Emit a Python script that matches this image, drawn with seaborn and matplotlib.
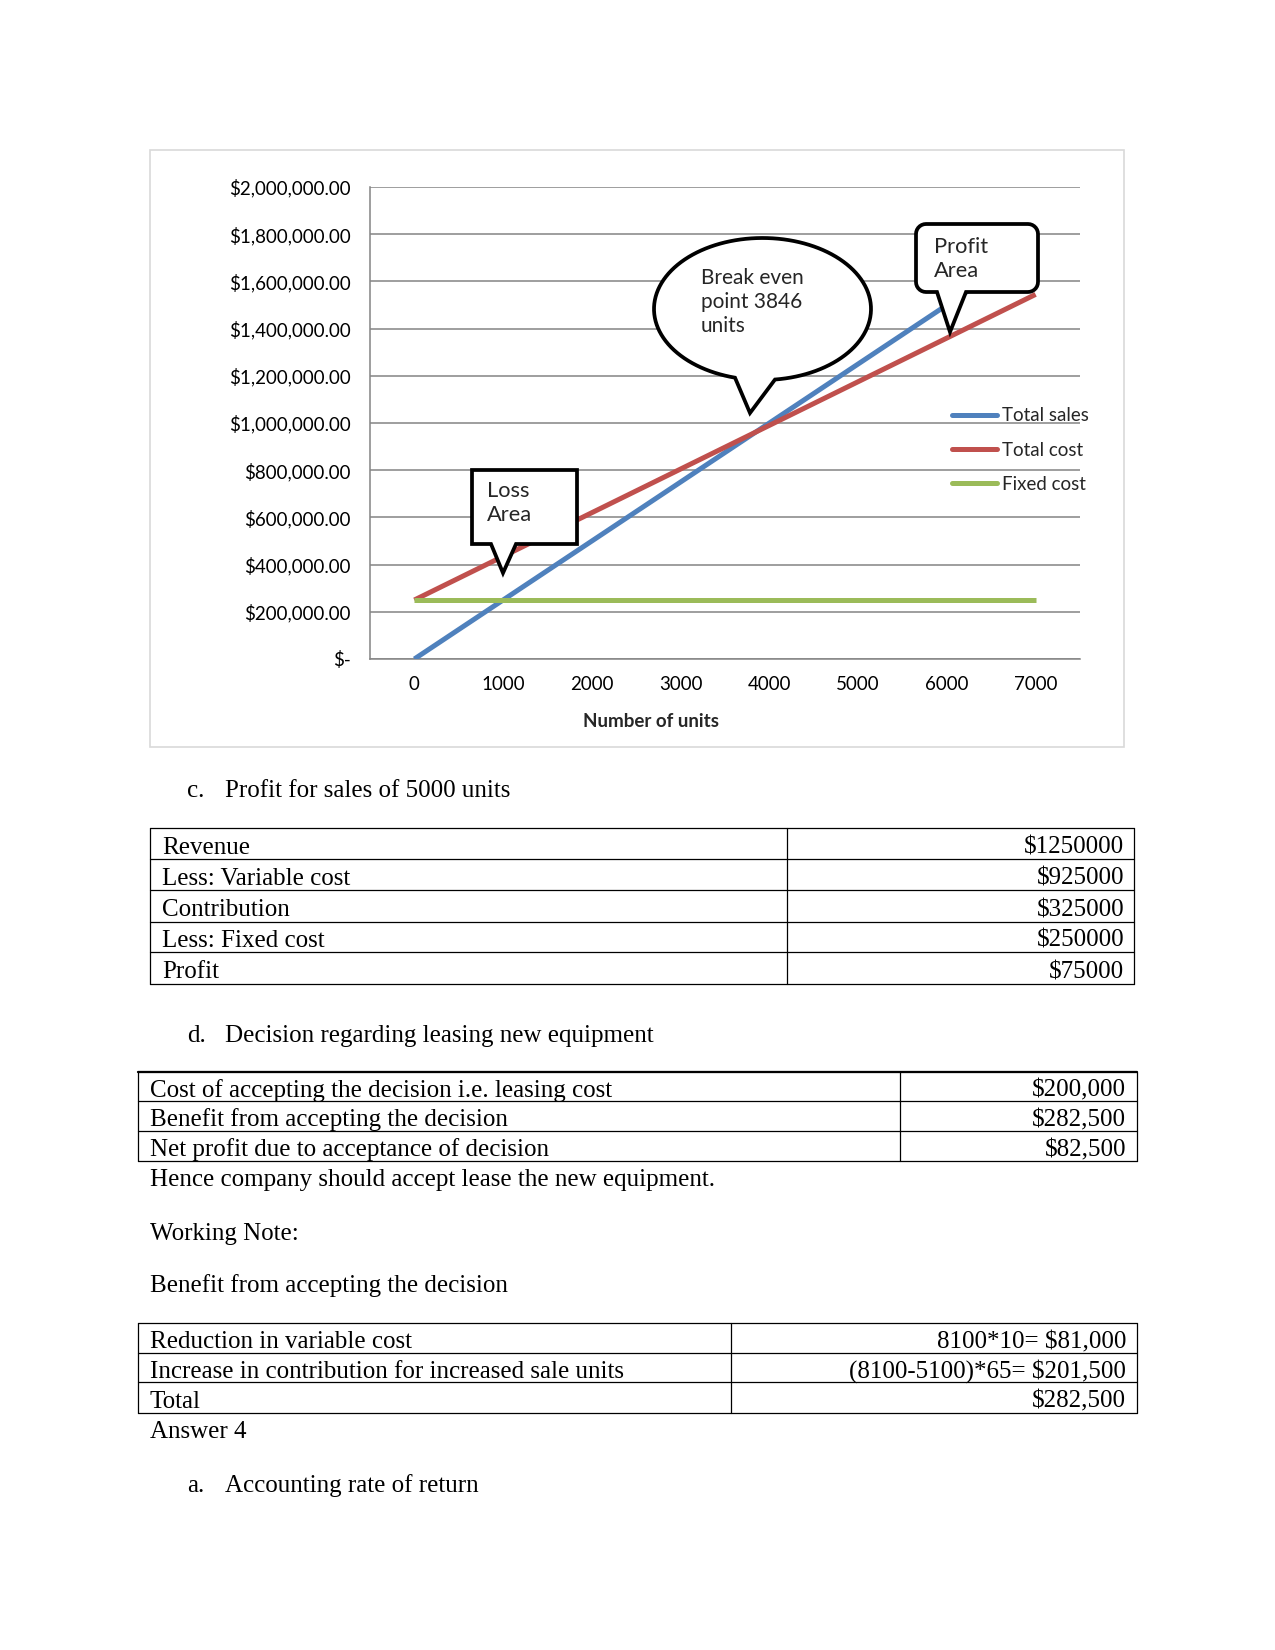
import numpy as np
import pandas as pd
import matplotlib
matplotlib.use('Agg')
import matplotlib.pyplot as plt
import seaborn as sns
from matplotlib.lines import Line2D
from matplotlib.patches import Rectangle, Polygon

# ---------------- data ----------------
units = [0, 1000, 2000, 3000, 4000, 5000, 6000, 7000]
total_sales = [0, 250000, 500000, 750000, 1000000, 1250000, 1500000, 1750000]
total_cost = [250000, 435000, 620000, 805000, 990000, 1175000, 1360000, 1545000]
fixed_cost = [250000, 250000, 250000, 250000, 250000, 250000, 250000, 250000]
series_names = ['Total sales', 'Total cost', 'Fixed cost']
series_colors = ['#4F81BD', '#C0504D', '#9BBB59']
y_ticks = [0, 200000, 400000, 600000, 800000, 1000000, 1200000, 1400000, 1600000, 1800000, 2000000]
x_title = 'Number of units'
callout_loss = 'Loss\nArea'
callout_break = 'Break even\npoint 3846\nunits'
callout_profit = 'Profit\nArea'

t1_labels = ['Revenue', 'Less: Variable cost', 'Contribution', 'Less: Fixed cost', 'Profit']
t1_values = ['$1250000', '$925000', '$325000', '$250000', '$75000']
t2_labels = ['Cost of accepting the decision i.e. leasing cost',
             'Benefit from accepting the decision',
             'Net profit due to acceptance of decision']
t2_values = ['$200,000', '$282,500', '$82,500']
t3_labels = ['Reduction in variable cost',
             'Increase in contribution for increased sale units',
             'Total']
t3_values = ['8100*10= $81,000', '(8100-5100)*65= $201,500', '$282,500']

# ---------------- figure ----------------
sns.set_style('white')
plt.rcParams['font.family'] = ['Lato', 'DejaVu Sans']
W, H = 1275, 1650
fig = plt.figure(figsize=(8.5, 11), dpi=150)
fig.patch.set_facecolor('white')

def fx(x):
    return x / W

def fy(y):
    return 1 - y / H

def pts(lst):
    return [(fx(x), fy(y)) for x, y in lst]

# chart frame
fig.add_artist(Rectangle((fx(150), fy(747)), (1124 - 150) / W, (747 - 150) / H,
                         transform=fig.transFigure, facecolor='white',
                         edgecolor='#D9D9D9', lw=0.8, zorder=-5))

ax = fig.add_axes([fx(370), fy(659), (1080 - 370) / W, (659 - 187) / H])
ax.set_facecolor('none')

df = pd.DataFrame({
    'pos': list(range(len(units))) * 3,
    'value': total_sales + total_cost + fixed_cost,
    'series': [series_names[0]] * len(units) + [series_names[1]] * len(units) + [series_names[2]] * len(units),
})
sns.lineplot(data=df, x='pos', y='value', hue='series', hue_order=series_names,
             palette=series_colors, linewidth=2.4, ax=ax, legend=False, sort=False)
for ln in ax.lines:
    ln.set_solid_capstyle('butt')
    ln.set_zorder(3)

ax.set_xlim(-0.5, 7.5)
ax.set_ylim(0, 2000000)
ax.set_yticks(y_ticks)
ax.set_yticklabels(['$-' if v == 0 else f'${v:,.2f}' for v in y_ticks])
ax.set_xticks(np.arange(-0.5, 8, 1))
ax.set_xticklabels([])
ax.set_xticks(range(len(units)), minor=True)
ax.set_xticklabels([str(u) for u in units], minor=True)
ax.set_xlabel('')
ax.set_ylabel('')
ax.yaxis.grid(True, color='#868686', lw=0.75)
ax.xaxis.grid(False)
for s in ['top', 'right']:
    ax.spines[s].set_visible(False)
for s in ['left', 'bottom']:
    ax.spines[s].set_color('#868686')
    ax.spines[s].set_linewidth(0.75)
ax.tick_params(axis='x', which='major', length=4.3, width=0.75, color='#868686', direction='out')
ax.tick_params(axis='x', which='minor', length=0, pad=8, labelsize=9, labelcolor='black')
ax.tick_params(axis='y', length=4.3, width=0.75, color='#868686', direction='out',
               pad=5, labelsize=9, labelcolor='black')

fig.text(fx(651), fy(721), x_title, ha='center', va='center', fontsize=9,
         fontweight='bold', family=['Lato', 'DejaVu Sans'])

handles = [Line2D([], [], color=c, lw=2.4) for c in series_colors]
ax.legend(handles=handles, labels=series_names, loc='upper left',
          bbox_to_anchor=(fx(943), fy(398)), bbox_transform=fig.transFigure,
          frameon=False, borderpad=0, handlelength=2.4, handletextpad=0.22,
          labelspacing=0.92, prop={'family': 'Lato', 'size': 9})

# ---------------- callouts ----------------
def rounded_callout(x0, y0, x1, y1, r, bl, br, tip):
    p = []
    def arc(cx, cy, a0, a1):
        if r == 0:
            p.append((cx, cy))
            return
        for a in np.linspace(np.radians(a0), np.radians(a1), 8):
            p.append((cx + r * np.cos(a), cy + r * np.sin(a)))
    arc(x0 + r, y0 + r, 180, 270)
    arc(x1 - r, y0 + r, 270, 360)
    arc(x1 - r, y1 - r, 0, 90)
    p.append((br, y1))
    p.append(tip)
    p.append((bl, y1))
    arc(x0 + r, y1 - r, 90, 180)
    return p

def ellipse_callout(cx, cy, a, b, bl, br, tip):
    tr = np.arccos((br - cx) / a)
    tl = np.arccos((bl - cx) / a)
    ts = np.linspace(tr, tl - 2 * np.pi, 120)
    p = [(cx + a * np.cos(t), cy + b * np.sin(t)) for t in ts]
    p.append(tip)
    return p

loss_pts = rounded_callout(472, 470, 577, 544, 0, 491, 516, (503, 573))
profit_pts = rounded_callout(916, 224, 1038, 292, 10, 937, 966, (950, 332))
break_pts = ellipse_callout(762.5, 309, 108.5, 71, 735, 775, (750, 413))
for pp in (loss_pts, profit_pts, break_pts):
    fig.add_artist(Polygon(pts(pp), closed=True, transform=fig.transFigure,
                           facecolor='white', edgecolor='black', lw=1.8,
                           joinstyle='miter', zorder=5))

def callout_text(x, y, s, size=10):
    fig.text(fx(x), fy(y), s, ha='left', va='top', fontsize=size,
             family=['Lato', 'DejaVu Sans'], linespacing=1.25, zorder=6)

callout_text(487, 481, callout_loss, 10.5)
callout_text(934, 237, callout_profit, 10.5)
callout_text(701, 268, callout_break, 10)

# ---------------- document text ----------------
SERIF = ['Liberation Serif', 'DejaVu Serif']

def body(x, y, s, ha='left'):
    fig.text(fx(x), fy(y + 3), s, ha=ha, va='center', fontsize=12, family=SERIF, color='black')

def hline(x0, x1, y, lw=0.6):
    fig.add_artist(Line2D([fx(x0), fx(x1)], [fy(y), fy(y)], transform=fig.transFigure,
                          color='black', lw=lw))

def vline(x, y0, y1, lw=0.6):
    fig.add_artist(Line2D([fx(x), fx(x)], [fy(y0), fy(y1)], transform=fig.transFigure,
                          color='black', lw=lw))

def table(x0, x1, split, edges, labels, values, lpad, rpad, top_lw=0.6):
    for i, e in enumerate(edges):
        hline(x0, x1, e, lw=top_lw if i == 0 else 0.6)
    for x in (x0, split, x1):
        vline(x, edges[0], edges[-1])
    for i, (lab, val) in enumerate(zip(labels, values)):
        yc = (edges[i] + edges[i + 1]) / 2 + 1
        body(x0 + lpad, yc, lab)
        body(x1 - rpad, yc, val, ha='right')

body(187, 788, 'c.')
body(225, 788, 'Profit for sales of 5000 units')
table(150, 1134, 787, [828, 859, 890, 922, 952, 984], t1_labels, t1_values, 12, 10)

body(187, 1033, 'd.')
body(225, 1033, 'Decision regarding leasing new equipment')
table(138, 1137, 900, [1072, 1101, 1131, 1161], t2_labels, t2_values, 12, 11, top_lw=1.1)
body(150, 1177, 'Hence company should accept lease the new equipment.')
body(150, 1231, 'Working Note:')
body(150, 1283, 'Benefit from accepting the decision')
table(138, 1137, 731, [1323, 1353, 1382, 1413], t3_labels, t3_values, 12, 11)
body(150, 1429, 'Answer 4')
body(187, 1483, 'a.')
body(225, 1483, 'Accounting rate of return')

fig.savefig('out.png', dpi=150, facecolor='white')
